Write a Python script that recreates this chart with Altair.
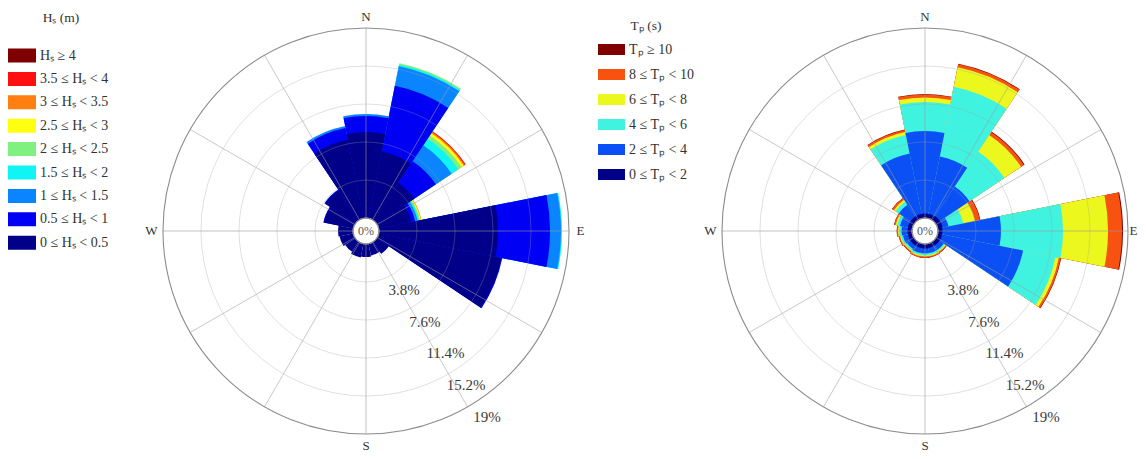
import math
import altair as alt
import pandas as pd

SERIF = "Liberation Serif"

# ---------------- data ----------------
DIRS = ["N", "NNE", "NE", "ENE", "E", "ESE", "SE", "SSE",
        "S", "SSW", "SW", "WSW", "W", "WNW", "NW", "NNW"]
BEARINGS = [0.0, 22.5, 45.0, 67.5, 90.0, 112.5, 135.0, 157.5,
            180.0, 202.5, 225.0, 247.5, 270.0, 292.5, 315.0, 337.5]

# Significant wave height classes (inner -> outer)
HS_TITLE = "Hₛ (m)"
HS_CLASSES = ["0 ≤ Hₛ < 0.5", "0.5 ≤ Hₛ < 1", "1 ≤ Hₛ < 1.5", "1.5 ≤ Hₛ < 2",
              "2 ≤ Hₛ < 2.5", "2.5 ≤ Hₛ < 3", "3 ≤ Hₛ < 3.5", "3.5 ≤ Hₛ < 4", "Hₛ ≥ 4"]
HS_COLORS = ["#000088", "#0000f5", "#0a84ff", "#10f4f4", "#80f080",
             "#ffff10", "#ff8010", "#ff1010", "#7f0000"]
#           N    NNE   NE   ENE   E     ESE   SE    SSE  S    SSW  SW   WSW  W    WNW  NW   NNW
hs_0_05 = [8.6, 6.8, 4.5, 3.3, 11.9, 12.5, 1.4, 1.2, 1.3, 1.4, 1.2, 1.4, 1.5, 3.0, 3.6, 8.0]
hs_05_1 = [1.6, 6.7, 2.6, 0.4, 5.2, 0.1, 0.05, 0, 0, 0, 0, 0, 0, 0.05, 0.1, 1.2]
hs_1_15 = [0.2, 2.0, 1.9, 0.25, 1.1, 0, 0, 0, 0, 0, 0, 0, 0, 0, 0, 0.2]
hs_15_2 = [0, 0.15, 0.8, 0.15, 0.1, 0, 0, 0, 0, 0, 0, 0, 0, 0, 0, 0]
hs_2_25 = [0, 0.15, 0.4, 0.1, 0, 0, 0, 0, 0, 0, 0, 0, 0, 0, 0, 0]
hs_25_3 = [0, 0, 0.25, 0.1, 0, 0, 0, 0, 0, 0, 0, 0, 0, 0, 0, 0]
hs_3_35 = [0, 0, 0.15, 0.05, 0, 0, 0, 0, 0, 0, 0, 0, 0, 0, 0, 0]
hs_35_4 = [0, 0, 0.1, 0, 0, 0, 0, 0, 0, 0, 0, 0, 0, 0, 0, 0]
hs_4 = [0, 0, 0, 0, 0, 0, 0, 0, 0, 0, 0, 0, 0, 0, 0, 0]
HS_SERIES = [hs_0_05, hs_05_1, hs_1_15, hs_15_2, hs_2_25, hs_25_3, hs_3_35, hs_35_4, hs_4]

# Peak period classes (inner -> outer)
TP_TITLE = "Tₚ (s)"
TP_CLASSES = ["0 ≤ Tₚ < 2", "2 ≤ Tₚ < 4", "4 ≤ Tₚ < 6", "6 ≤ Tₚ < 8", "8 ≤ Tₚ < 10", "Tₚ ≥ 10"]
TP_COLORS = ["#000088", "#0a50f5", "#40f2e0", "#ecf71e", "#f75210", "#800000"]
#          N     NNE   NE    ENE   E     ESE   SE    SSE   S     SSW   SW    WSW   W     WNW   NW    NNW
tp_0_2 = [0.45, 0.45, 0.5, 0.5, 0.45, 0.45, 0.45, 0.45, 0.45, 0.45, 0.45, 0.45, 0.45, 0.45, 0.45, 0.45]
tp_2_4 = [8.25, 5.85, 3.55, 0.6, 5.85, 8.25, 0.5, 0.5, 0.5, 0.5, 0.4, 0.5, 0.6, 0.8, 1.4, 6.15]
tp_4_6 = [2.9, 7.1, 4.2, 1.5, 6.2, 3.3, 0.15, 0.2, 0.2, 0.2, 0.2, 0.2, 0.25, 0.3, 0.4, 1.9]
tp_6_8 = [0.45, 2.0, 2.0, 1.2, 4.5, 0.35, 0.1, 0.1, 0.1, 0.1, 0.1, 0.1, 0.1, 0.15, 0.2, 0.3]
tp_8_10 = [0.3, 0.3, 0.35, 0.5, 1.4, 0.2, 0.12, 0.12, 0.12, 0.12, 0.12, 0.12, 0.12, 0.15, 0.2, 0.2]
tp_10 = [0.05, 0.05, 0.08, 0.05, 0.1, 0.05, 0.02, 0.02, 0.02, 0.02, 0.02, 0.02, 0.02, 0.02, 0.03, 0.05]
TP_SERIES = [tp_0_2, tp_2_4, tp_4_6, tp_6_8, tp_8_10, tp_10]

RING_VALUES = [0.0, 3.8, 7.6, 11.4, 15.2]
OUTER_VALUE = 19.0
RING_LABEL_VALUES = [3.8, 7.6, 11.4, 15.2, 19.0]
RING_LABELS = ["3.8%", "7.6%", "11.4%", "15.2%", "19%"]
SPOKE_ANGLES = [0, 30, 60, 90, 120, 150, 180, 210, 240, 270, 300, 330]
COMPASS_ANGLES = [0, 90, 180, 270]
COMPASS_LABELS = ["N", "E", "S", "W"]
HALF_SECTOR = 11.25

# ---------------- layout ----------------
W, H = 1130, 443
CX1, CX2, CY = 358, 917, 223
R_HOLE, R_OUT = 13, 203


def rose_frame(classes, series):
    rows = []
    for i, (d, b) in enumerate(zip(DIRS, BEARINGS)):
        cum = 0.0
        for k, (cls, vals) in enumerate(zip(classes, series)):
            v = vals[i]
            if v <= 0:
                continue
            cum += v
            rows.append({"dir": d, "cls": cls, "k": k, "t0": b - HALF_SECTOR,
                         "t1": b + HALF_SECTOR, "outer": cum, "inner": 0.0})
    df = pd.DataFrame(rows)
    # draw outer classes first so inner ones overlay them (no seams)
    return df.sort_values("k", ascending=False, kind="stable").reset_index(drop=True)


df_hs = rose_frame(HS_CLASSES, HS_SERIES)
df_tp = rose_frame(TP_CLASSES, TP_SERIES)

theta_scale = alt.Scale(domain=[0, 360], range=[0, 2 * math.pi], nice=False, zero=False)
r_scale = alt.Scale(type="linear", domain=[0, OUTER_VALUE], range=[R_HOLE, R_OUT],
                    nice=False, zero=False)

LEGEND_STYLE = dict(
    orient="none", direction="vertical", symbolStrokeWidth=0, symbolOpacity=1,
    clipHeight=16, labelFont=SERIF, labelFontSize=14, labelColor="#333333",
    labelOffset=4, labelLimit=300,
)

leg_hs = alt.Legend(title=None, legendX=0, legendY=39.5,
                    symbolType="M-1,-0.5H1V0.5H-1Z", symbolSize=784, rowPadding=7.4,
                    **LEGEND_STYLE)
leg_tp = alt.Legend(title=TP_TITLE, legendX=590, legendY=11,
                    symbolType="M-1,-0.4H1V0.4H-1Z", symbolSize=729, rowPadding=9,
                    titleFont=SERIF, titleFontSize=13.5, titleFontWeight="normal",
                    titleColor="#333333", titleAnchor="middle", titleAlign="center",
                    titlePadding=9, **LEGEND_STYLE)


def bars(df, cx, classes, colors, legend):
    return alt.Chart(df).mark_arc(strokeWidth=0).encode(
        x=alt.value(cx), y=alt.value(CY),
        theta=alt.Theta("t0:Q", scale=theta_scale, stack=None),
        theta2="t1:Q",
        radius=alt.Radius("outer:Q", scale=r_scale, stack=None),
        radius2="inner:Q",
        color=alt.Color("cls:N", scale=alt.Scale(domain=list(reversed(classes)),
                                                 range=list(reversed(colors))),
                        legend=legend),
    )


def compass_layer(cx, angles, labels, offset):
    comp_df = pd.DataFrame({"a": angles, "text": labels, "r": OUTER_VALUE})
    return alt.Chart(comp_df).mark_text(radiusOffset=offset, font=SERIF, fontSize=13,
                                        color="#333333").encode(
        x=alt.value(cx), y=alt.value(CY),
        theta=alt.Theta("a:Q", scale=theta_scale, stack=None),
        radius=alt.Radius("r:Q", scale=r_scale, stack=None),
        text="text:N",
    )


def grid(cx, tight_east=False):
    rings_df = pd.DataFrame({"r": RING_VALUES, "a0": 0.0, "a1": 360.0})
    outer_df = pd.DataFrame({"r": [OUTER_VALUE], "a0": [0.0], "a1": [360.0]})
    spokes_df = pd.DataFrame({"a": SPOKE_ANGLES, "r": OUTER_VALUE, "r0": 0.0})
    rlab_df = pd.DataFrame({"r": RING_LABEL_VALUES, "text": RING_LABELS, "a": 147.0})
    zero_df = pd.DataFrame({"text": ["0%"]})

    rings = alt.Chart(rings_df).mark_arc(fillOpacity=0, stroke="#a0a0a0", strokeOpacity=0.32,
                                         strokeWidth=1).encode(
        x=alt.value(cx), y=alt.value(CY),
        theta=alt.Theta("a0:Q", scale=theta_scale, stack=None), theta2="a1:Q",
        radius=alt.Radius("r:Q", scale=r_scale, stack=None),
    )
    spokes = alt.Chart(spokes_df).mark_arc(fillOpacity=0, stroke="#a0a0a0", strokeOpacity=0.32,
                                           strokeWidth=1).encode(
        x=alt.value(cx), y=alt.value(CY),
        theta=alt.Theta("a:Q", scale=theta_scale, stack=None), theta2="a:Q",
        radius=alt.Radius("r:Q", scale=r_scale, stack=None), radius2="r0:Q",
    )
    outer = alt.Chart(outer_df).mark_arc(fillOpacity=0, stroke="#8c8c8c",
                                         strokeWidth=1.1).encode(
        x=alt.value(cx), y=alt.value(CY),
        theta=alt.Theta("a0:Q", scale=theta_scale, stack=None), theta2="a1:Q",
        radius=alt.Radius("r:Q", scale=r_scale, stack=None),
    )
    rlab = alt.Chart(rlab_df).mark_text(radiusOffset=19, font=SERIF, fontSize=15,
                                        color="#3a3a3a").encode(
        x=alt.value(cx), y=alt.value(CY),
        theta=alt.Theta("a:Q", scale=theta_scale, stack=None),
        radius=alt.Radius("r:Q", scale=r_scale, stack=None),
        text="text:N",
    )
    if tight_east:
        comps = [compass_layer(cx, [0, 180, 270], ["N", "S", "W"], 11.5),
                 compass_layer(cx, [90], ["E"], 5.5)]
    else:
        comps = [compass_layer(cx, COMPASS_ANGLES, COMPASS_LABELS, 11.5)]
    zero = alt.Chart(zero_df).mark_text(font=SERIF, fontSize=12, color="#555555").encode(
        x=alt.value(cx), y=alt.value(CY), text="text:N",
    )
    return [rings, spokes, outer, rlab] + comps + [zero]


hs_title = alt.Chart(pd.DataFrame({"text": [HS_TITLE]})).mark_text(
    font=SERIF, fontSize=13.5, color="#333333").encode(
    x=alt.value(53), y=alt.value(10), text="text:N")

layers = [bars(df_hs, CX1, HS_CLASSES, HS_COLORS, leg_hs)] + grid(CX1) + \
         [bars(df_tp, CX2, TP_CLASSES, TP_COLORS, leg_tp)] + grid(CX2, tight_east=True) + \
         [hs_title]

chart = alt.layer(*layers).resolve_scale(color="independent").properties(
    width=W, height=H, autosize="none", background="white",
    padding={"left": 0, "top": 0, "right": 0, "bottom": 0},
).configure_view(strokeWidth=0, stroke="transparent")

chart.save("out.html", embed_options={"renderer": "svg", "actions": False})
